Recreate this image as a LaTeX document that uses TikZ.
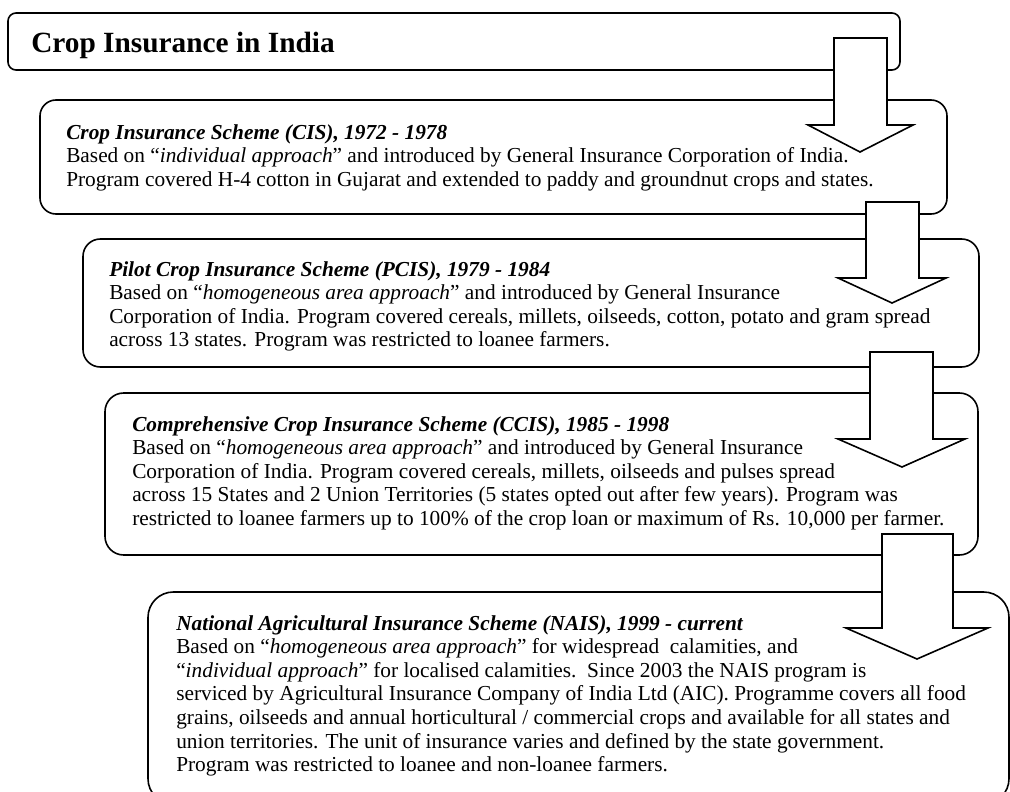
\documentclass[tikz,border=0pt]{standalone}
\usepackage{fontspec}
\setmainfont{Liberation Serif}
\usetikzlibrary{fit}
\newcommand\mytxt[1]{\begin{minipage}[t]{760pt}\fontsize{16}{17.7}\selectfont #1\end{minipage}}
\tikzset{
  box/.style={draw=black, line width=1.2pt, rounded corners=#1, inner sep=0pt, fill=white},
  box/.default=12pt,
  txt/.style={anchor=base west, inner sep=0pt},
  blockarrow/.style={draw=black, fill=white, line width=1.2pt, line join=miter},
}
\begin{document}
\begin{tikzpicture}[x=0.75pt, y=-0.75pt]
\useasboundingbox (0,0) rectangle (1010,792);
% boxes
\node[box=6pt, fit={(8,13) (900,70)}] (b1) {};
\node[box=12pt, fit={(40,100) (947,214)}] (b2) {};
\node[box=13pt, fit={(83,239) (979,367)}] (b3) {};
\node[box=14pt, fit={(105,393) (978,555)}] (b4) {};
\node[box=19pt, fit={(148,592) (1009,804)}] (b5) {};
% texts
\node[txt, font=\fontsize{22}{26}\selectfont\bfseries] (t1) at (31,53) {Crop Insurance in India};
\node[txt] (t2) at (66,139) {\mytxt{\textbf{\textit{Crop Insurance Scheme (CIS), 1972 - 1978}}\\
Based on “\textit{individual approach}” and introduced by General Insurance Corporation of India.\\
Program covered H-4 cotton in Gujarat and extended to paddy and groundnut crops and states.}};
\node[txt] (t3) at (109,276) {\mytxt{\textbf{\textit{Pilot Crop Insurance Scheme (PCIS), 1979 - 1984}}\\
Based on “\textit{homogeneous area approach}” and introduced by General Insurance\\
Corporation of India. Program covered cereals, millets, oilseeds, cotton, potato and gram spread\\
across 13 states. Program was restricted to loanee farmers.}};
\node[txt] (t4) at (132,431) {\mytxt{\textbf{\textit{Comprehensive Crop Insurance Scheme (CCIS), 1985 - 1998}}\\
Based on “\textit{homogeneous area approach}” and introduced by General Insurance\\
Corporation of India. Program covered cereals, millets, oilseeds and pulses spread\\
across 15 States and 2 Union Territories (5 states opted out after few years). Program was\\
restricted to loanee farmers up to 100\% of the crop loan or maximum of Rs. 10,000 per farmer.}};
\node[txt] (t5) at (176,630) {\mytxt{\textbf{\textit{National Agricultural Insurance Scheme (NAIS), 1999 - current}}\\
Based on “\textit{homogeneous area approach}” for widespread\ \ calamities, and\\
“\textit{individual approach}” for localised calamities.\ \ Since 2003 the NAIS program is\\
serviced by Agricultural Insurance Company of India Ltd (AIC). Programme covers all food\\
grains, oilseeds and annual horticultural / commercial crops and available for all states and\\
union territories. The unit of insurance varies and defined by the state government.\\
Program was restricted to loanee and non-loanee farmers.}};
% block arrows
\draw[blockarrow] (834,38) -- (887,38) -- (887,125) -- (913,125) -- (860,152) -- (808,125) -- (834,125) -- cycle;
\draw[blockarrow] (866,202) -- (919,202) -- (919,278) -- (946,278) -- (892,303) -- (838,278) -- (866,278) -- cycle;
\draw[blockarrow] (870,352) -- (933,352) -- (933,439) -- (965,439) -- (902,467) -- (838,439) -- (870,439) -- cycle;
\draw[blockarrow] (882,534) -- (953,534) -- (953,628) -- (988,628) -- (917,659) -- (846,628) -- (882,628) -- cycle;
\end{tikzpicture}
\end{document}
